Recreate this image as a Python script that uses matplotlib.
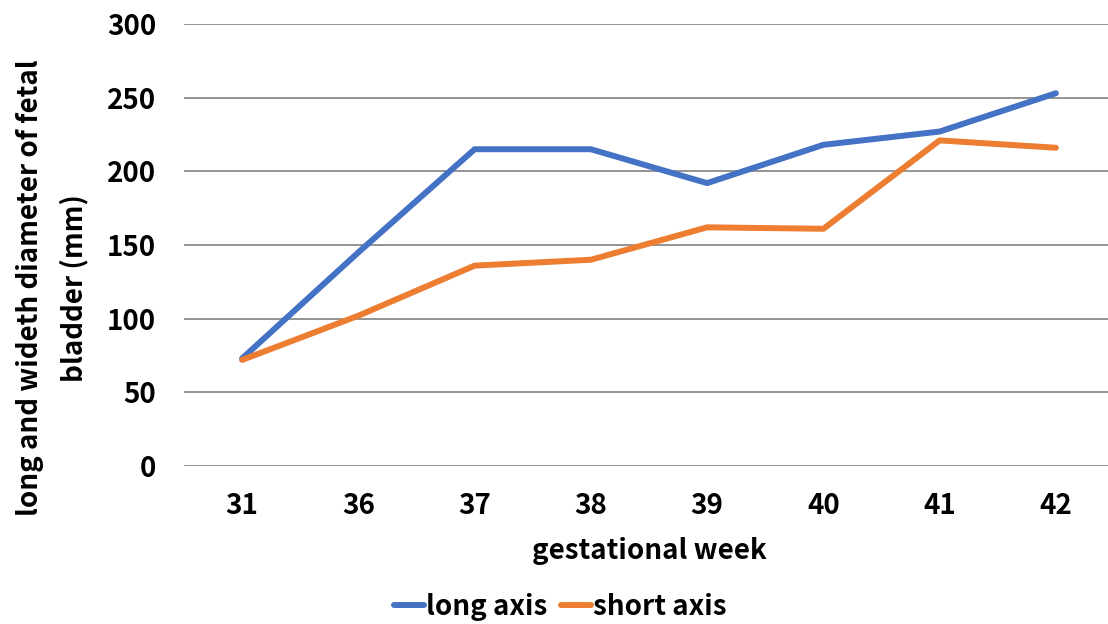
import matplotlib
matplotlib.use("Agg")
import matplotlib.pyplot as plt

plt.rcParams['font.family'] = ['Noto Sans CJK JP', 'DejaVu Sans']
plt.rcParams['font.weight'] = 'bold'

weeks = ['31', '36', '37', '38', '39', '40', '41', '42']
long_axis = [73, 145, 215, 215, 192, 218, 227, 253]
short_axis = [72, 102, 136, 140, 162, 161, 221, 216]

BLUE = '#4472C4'
ORANGE = '#ED7D31'

fig = plt.figure(figsize=(11.08, 6.24), dpi=100)
ax = fig.add_axes([184 / 1108, 1 - 466 / 624, 930 / 1108, 442 / 624])

x = range(len(weeks))
ax.plot(x, long_axis, color=BLUE, lw=4.3, solid_capstyle='round',
        solid_joinstyle='round', label='long axis', zorder=3)
ax.plot(x, short_axis, color=ORANGE, lw=4.3, solid_capstyle='round',
        solid_joinstyle='round', label='short axis', zorder=3)

ax.set_xlim(-0.5, len(weeks) - 0.5)
ax.set_ylim(0, 300)
ax.set_yticks(range(0, 301, 50))
ax.set_xticks(list(x))
ax.set_xticklabels(weeks)
ax.yaxis.grid(True, color='#767676', lw=1.1)
ax.set_axisbelow(True)
for s in ax.spines.values():
    s.set_visible(False)
ax.tick_params(axis='both', length=0, labelsize=20)
ax.tick_params(axis='y', pad=20)
ax.tick_params(axis='x', pad=19)

ax.set_xlabel('gestational week', fontsize=20, fontweight='bold', labelpad=12)

# two-line y label, placed a bit below the axes centre
fig.text(52 / 1108, 1 - 288 / 624, 'long and wideth diameter of fetal\nbladder (mm)',
         rotation=90, ha='center', va='center', fontsize=20,
         fontweight='bold', linespacing=1.7)

ax.legend(loc='center', bbox_to_anchor=(560 / 1108, 1 - 607 / 624),
          bbox_transform=fig.transFigure, ncol=2, frameon=False,
          fontsize=20, handlelength=1.1, handletextpad=0.05,
          columnspacing=0.5)

fig.savefig('out.png', dpi=100)
